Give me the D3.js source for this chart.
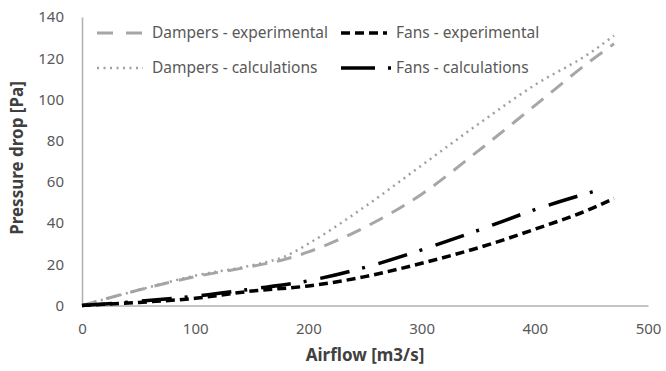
<!DOCTYPE html>
<html>
<head>
<meta charset="utf-8">
<script src="https://cdn.jsdelivr.net/npm/d3@7"></script>
<style>
  body { margin: 0; background: #fff; }
  svg text { font-family: "Noto Sans", "Open Sans", sans-serif; }
</style>
</head>
<body>
<svg id="chart" width="666" height="371"></svg>
<script>
// airflow [m3/s] vs pressure drop [Pa]
const dampersExpX = [0, 50, 100, 150, 180, 200, 250, 300, 350, 400, 450, 470];
const dampersExpY = [0, 7.5, 14, 19, 22.5, 26, 38, 54, 75, 97, 119, 127];
const dampersCalcX = [0, 50, 100, 150, 180, 200, 250, 300, 350, 400, 450, 470];
const dampersCalcY = [0, 7.5, 14.5, 19.5, 24, 30, 48, 68, 88, 107, 123, 131];
const fansExpX = [0, 50, 100, 150, 200, 250, 300, 350, 400, 450, 470];
const fansExpY = [0, 1.5, 3.5, 7, 9.5, 14, 20.5, 28, 37, 47, 52];
const fansCalcX = [0, 50, 100, 150, 200, 250, 300, 350, 400, 456];
const fansCalcY = [0, 2, 4.5, 8, 12, 18.5, 27, 36.5, 46.5, 56];

const xTicks = [0, 100, 200, 300, 400, 500];
const yTicks = [0, 20, 40, 60, 80, 100, 120, 140];

const series = [
  {name: "Dampers - experimental", xs: dampersExpX, ys: dampersExpY,
   color: "#a6a6a6", width: 3, dash: "15,10", legDash: "16,13", legLen: 46},
  {name: "Fans - experimental", xs: fansExpX, ys: fansExpY,
   color: "#000", width: 3.5, dash: "9,5", legDash: "9,5", legLen: 46},
  {name: "Dampers - calculations", xs: dampersCalcX, ys: dampersCalcY,
   color: "#a0a0a0", width: 2.5, dash: "2,4.5", legDash: "2,4.5", legLen: 46},
  {name: "Fans - calculations", xs: fansCalcX, ys: fansCalcY,
   color: "#000", width: 3.5, dash: "30,13,3,14", legDash: "34,13,3,20", legLen: 50},
];

const svg = d3.select("#chart");
const margin = {left: 82, right: 18, top: 17, bottom: 66};
const W = 666, H = 371;

const x = d3.scaleLinear().domain([0, 500]).range([margin.left, W - margin.right]);
const y = d3.scaleLinear().domain([0, 140]).range([H - margin.bottom + 0.5, margin.top]);

// axes
const xAxis = svg.append("g")
  .attr("transform", `translate(0,${y(0)})`)
  .call(d3.axisBottom(x).tickValues(xTicks).tickSize(0).tickPadding(18));
const yAxis = svg.append("g")
  .attr("transform", `translate(${x(0)},0)`)
  .call(d3.axisLeft(y).tickValues(yTicks).tickSize(0).tickPadding(18));
[xAxis, yAxis].forEach(a => {
  a.select(".domain").attr("stroke", "#b0b0b0").attr("stroke-width", 1.5);
  a.selectAll("text").attr("fill", "#595959").style("font-size", "15px");
});

// lines
const line = d3.line()
  .x(d => x(d[0]))
  .y(d => y(d[1]))
  .curve(d3.curveMonotoneX);

svg.append("g").selectAll("path")
  .data(series)
  .join("path")
  .attr("d", s => line(s.xs.map((v, i) => [v, s.ys[i]])))
  .attr("fill", "none")
  .attr("stroke", s => s.color)
  .attr("stroke-width", s => s.width)
  .attr("stroke-dasharray", s => s.dash);

// legend, 2 x 2
const legendPos = [[97, 33], [341, 33], [97, 68], [341, 68]];
const leg = svg.append("g").selectAll("g")
  .data(series)
  .join("g")
  .attr("transform", (s, i) => `translate(${legendPos[i][0]},${legendPos[i][1]})`);
leg.append("line")
  .attr("x1", 0).attr("x2", s => s.legLen).attr("y1", 0).attr("y2", 0)
  .attr("stroke", s => s.color)
  .attr("stroke-width", s => s.width)
  .attr("stroke-dasharray", s => s.legDash);
leg.append("text")
  .attr("x", 55)
  .attr("y", 0)
  .attr("dy", "0.35em")
  .attr("fill", "#595959")
  .style("font-size", "15.5px")
  .text(s => s.name);

// axis titles
svg.append("text")
  .attr("x", (x(0) + x(500)) / 2)
  .attr("y", 355)
  .attr("text-anchor", "middle")
  .attr("dy", "0.35em")
  .attr("fill", "#404040")
  .style("font-size", "17px")
  .style("font-weight", "bold")
  .text("Airflow [m3/s]");
svg.append("text")
  .attr("transform", "translate(17,158) rotate(-90)")
  .attr("text-anchor", "middle")
  .attr("dy", "0.35em")
  .attr("fill", "#404040")
  .style("font-size", "17px")
  .style("font-weight", "bold")
  .text("Pressure drop [Pa]");
</script>
</body>
</html>
